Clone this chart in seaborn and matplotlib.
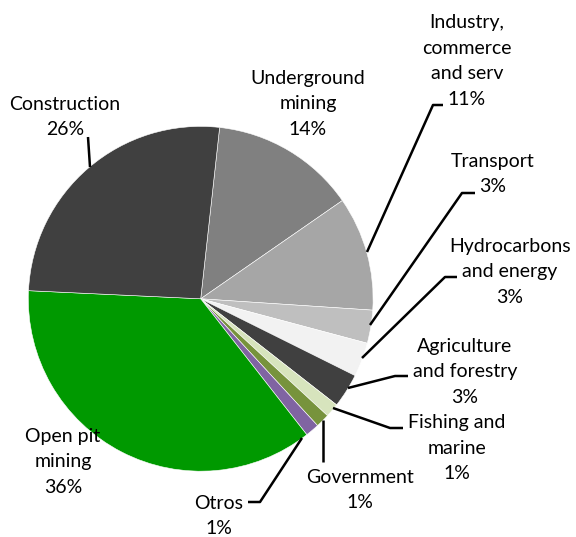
import matplotlib
matplotlib.use("Agg")
import matplotlib.pyplot as plt
import seaborn as sns

# ---- data ----
categories = ["Underground\nmining", "Industry,\ncommerce\nand serv", "Transport",
              "Hydrocarbons\nand energy", "Agriculture\nand forestry", "Fishing and\nmarine",
              "Government", "Otros", "Open pit\nmining", "Construction"]
shares = [13.6, 10.7, 3.1, 3.2, 3.2, 1.3, 1.3, 1.3, 36.3, 26.0]
colors = ["#808080", "#a6a6a6", "#bfbfbf", "#f2f2f2", "#404040",
          "#d7e4bd", "#77933c", "#8064a2", "#009900", "#404040"]

# label centres (image pixel coords, y from top)
label_pos = [(308, 104), (467, 61), (493, 174), (510, 272), (465, 372),
             (457, 448), (360, 490), (219, 516), (63, 462), (65, 117)]
# leader lines (image pixel coords)
leaders = [None,
           [(443, 105), (433, 105), (367, 252)],
           [(475, 193), (462, 193), (370, 325)],
           [(457, 277), (445, 277), (362, 358)],
           [(408, 376), (395, 376), (348, 388)],
           [(403, 428), (390, 428), (333, 408)],
           [(323, 462), (323, 420)],
           [(248, 502), (260, 502), (302, 438)],
           None,
           [(88, 137), (90, 167)]]

W, H = 576, 537
sns.set_theme(style="white")
plt.rcParams["font.family"] = ["Lato", "DejaVu Sans"]

fig = plt.figure(figsize=(W / 100, H / 100), dpi=100)
ax = fig.add_axes([0, 0, 1, 1])
ax.set_xlim(0, W)
ax.set_ylim(0, H)
ax.set_aspect("equal")
ax.axis("off")

cx, cy, r = 200.7, H - 298.8, 172.4
ax.pie(shares, colors=colors, startangle=83.7, counterclock=False,
       center=(cx, cy), radius=r, frame=True,
       wedgeprops=dict(edgecolor="white", linewidth=0.4))
ax.set_xlim(0, W)
ax.set_ylim(0, H)
ax.axis("off")

for lines in leaders:
    if lines:
        xs = [p[0] for p in lines]
        ys = [H - p[1] for p in lines]
        ax.plot(xs, ys, color="black", lw=1.8, solid_capstyle="butt")

for cat, val, (lx, ly) in zip(categories, shares, label_pos):
    ax.text(lx, H - ly, f"{cat}\n{round(val):d}%", ha="center", va="center",
            multialignment="center", fontsize=14, color="black", linespacing=1.6)

fig.savefig("out.png", dpi=100, facecolor="white")
